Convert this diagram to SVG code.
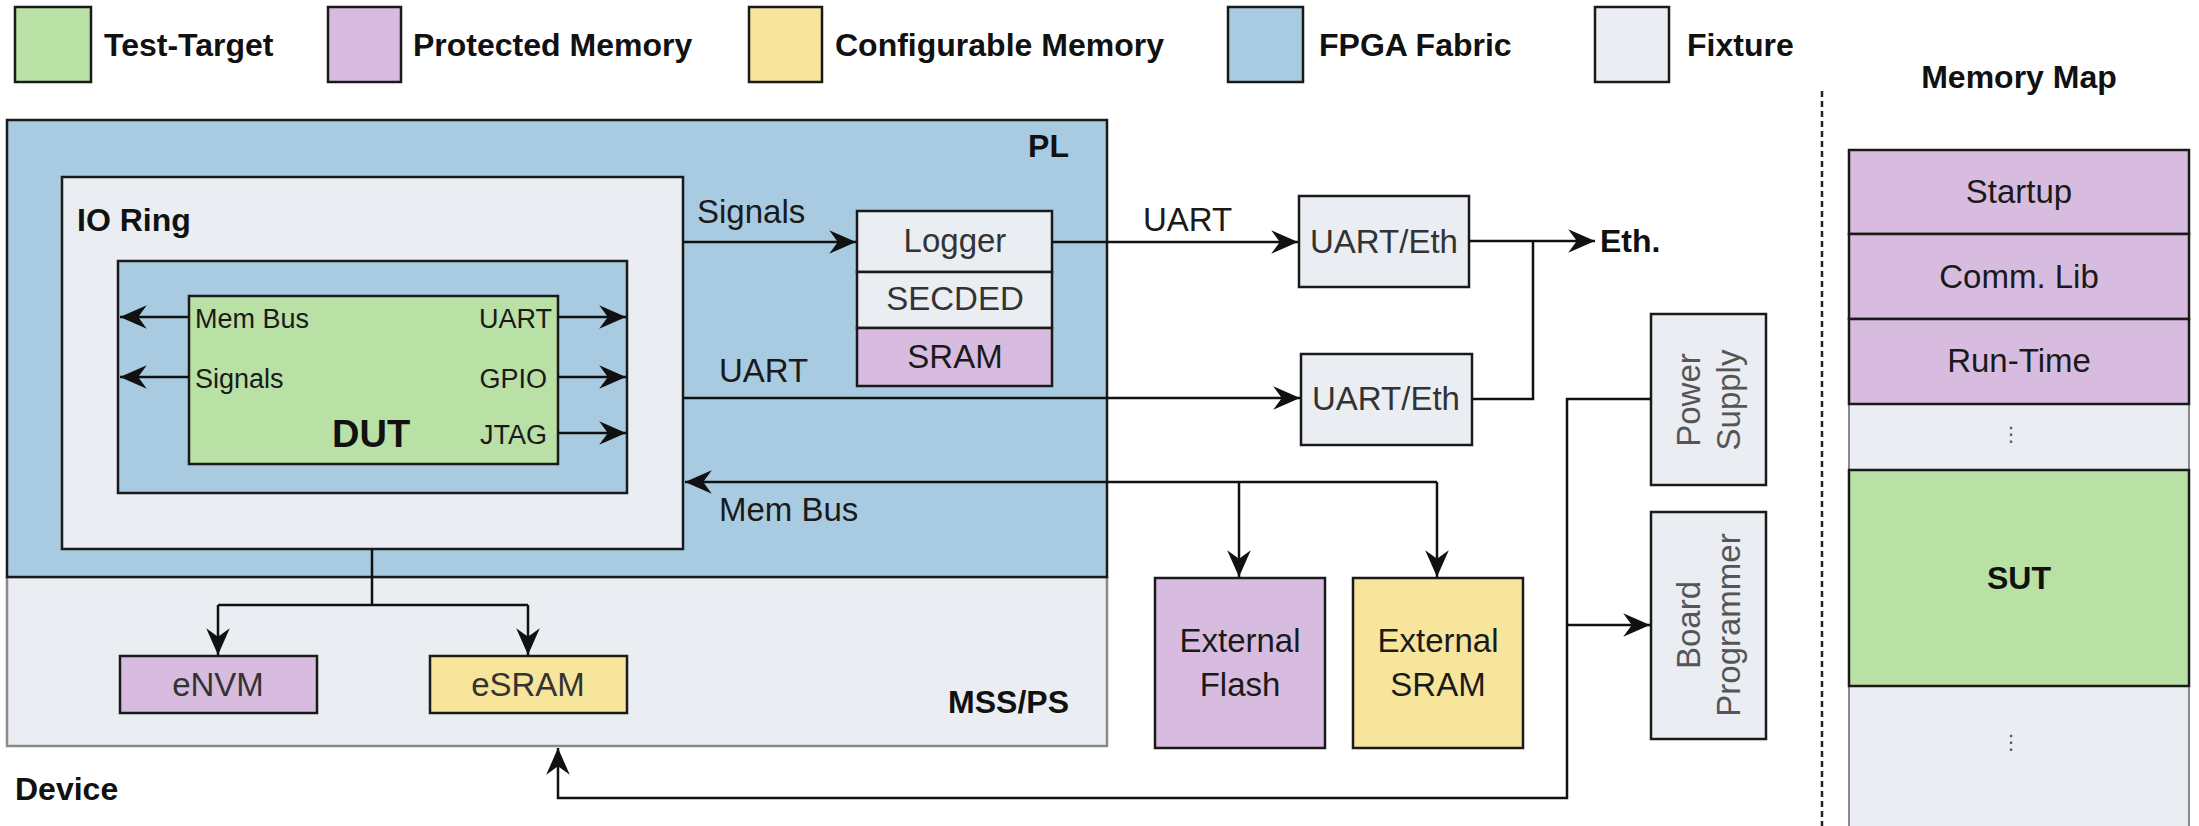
<svg xmlns="http://www.w3.org/2000/svg" width="2199" height="826" viewBox="0 0 2199 826">
<style>
text{font-family:"Liberation Sans",Arial,sans-serif}
.b{font-weight:bold;font-size:32px;fill:#111}
.t33{font-size:33px;fill:#1a1a1a}
.g33{font-size:33px;fill:#333}
.r27{font-size:27px;fill:#1a1a1a}
.c{text-anchor:middle}
.e{text-anchor:end}
.box{stroke:#1a1a1a;stroke-width:2.5}
.green{fill:#B9E0A5}
.purple{fill:#D8BCE0}
.yellow{fill:#F8E59C}
.blue{fill:#A9CBE1}
.fix{fill:#EAEDF2}
.ln{fill:none;stroke:#111;stroke-width:2.5}
.arr{marker-end:url(#ah)}
</style>
<defs>
<marker id="ah" markerUnits="userSpaceOnUse" markerWidth="30" markerHeight="30" viewBox="-27 -13 28 26" refX="0" refY="0" orient="auto">
<path d="M0,0 L-25,-11 L-17,0 L-25,11 Z" fill="#111"/>
</marker>
</defs>

<g id="legend">
<rect class="box green" x="15" y="7" width="76" height="75"/>
<text class="b" x="104" y="56">Test-Target</text>
<rect class="box purple" x="328" y="7" width="73" height="75"/>
<text class="b" x="413" y="56">Protected Memory</text>
<rect class="box yellow" x="749" y="7" width="73" height="75"/>
<text class="b" x="835" y="56">Configurable Memory</text>
<rect class="box blue" x="1228" y="7" width="75" height="75"/>
<text class="b" x="1319" y="56">FPGA Fabric</text>
<rect class="box fix" x="1595" y="7" width="74" height="75"/>
<text class="b" x="1687" y="56">Fixture</text>
</g>

<g id="device">
<rect x="7" y="577" width="1100" height="169" fill="#EAEDF2" stroke="#8a8a8a" stroke-width="2.5"/>
<text class="b e" x="1069" y="713">MSS/PS</text>
<text class="b" x="15" y="800">Device</text>
</g>
<g id="pl">
<rect class="box blue" x="7" y="120" width="1100" height="457"/>
<text class="b e" x="1069" y="157">PL</text>
</g>
<g id="io-ring">
<rect class="box fix" x="62" y="177" width="621" height="372"/>
<text class="b" x="77" y="231">IO Ring</text>
</g>
<g id="fabric-inner">
<rect class="box blue" x="118" y="261" width="509" height="232"/>
</g>
<g id="dut">
<rect class="box green" x="189" y="296" width="369" height="168"/>
<text class="r27" x="195" y="328">Mem Bus</text>
<text class="r27" x="195" y="388">Signals</text>
<text class="r27 e" x="552" y="328">UART</text>
<text class="r27 e" x="547" y="388">GPIO</text>
<text class="r27 e" x="547" y="444">JTAG</text>
<text x="332" y="447" style="font-weight:bold;font-size:38px;fill:#111">DUT</text>
</g>
<g id="logger">
<rect class="box fix" x="857" y="211" width="195" height="61"/>
<text class="g33 c" x="955" y="252">Logger</text>
</g>
<g id="secded">
<rect class="box fix" x="857" y="272" width="195" height="56"/>
<text class="g33 c" x="955" y="310">SECDED</text>
</g>
<g id="sram">
<rect class="box purple" x="857" y="328" width="195" height="58"/>
<text class="t33 c" x="955" y="368">SRAM</text>
</g>
<g id="envm">
<rect class="box purple" x="120" y="656" width="197" height="57"/>
<text class="g33 c" x="218" y="696">eNVM</text>
</g>
<g id="esram">
<rect class="box yellow" x="430" y="656" width="197" height="57"/>
<text class="g33 c" x="528" y="696">eSRAM</text>
</g>
<g id="uart-eth-1">
<rect class="box fix" x="1299" y="196" width="170" height="91"/>
<text class="g33 c" x="1384" y="253">UART/Eth</text>
</g>
<g id="uart-eth-2">
<rect class="box fix" x="1301" y="354" width="171" height="91"/>
<text class="g33 c" x="1386" y="410">UART/Eth</text>
</g>
<g id="ext-flash">
<rect class="box purple" x="1155" y="578" width="170" height="170"/>
<text class="t33 c" x="1240" y="652">External</text>
<text class="t33 c" x="1240" y="696">Flash</text>
</g>
<g id="ext-sram">
<rect class="box yellow" x="1353" y="578" width="170" height="170"/>
<text class="t33 c" x="1438" y="652">External</text>
<text class="t33 c" x="1438" y="696">SRAM</text>
</g>
<g id="power-supply">
<rect class="box fix" x="1651" y="314" width="115" height="171"/>
<text class="c" transform="translate(1700,400) rotate(-90)" style="font-size:33px;fill:#555">Power</text>
<text class="c" transform="translate(1740,400) rotate(-90)" style="font-size:33px;fill:#555">Supply</text>
</g>
<g id="board-programmer">
<rect class="box fix" x="1651" y="512" width="115" height="227"/>
<text class="c" transform="translate(1700,625) rotate(-90)" style="font-size:33px;fill:#555">Board</text>
<text class="c" transform="translate(1740,625) rotate(-90)" style="font-size:33px;fill:#555">Programmer</text>
</g>
<g id="eth">
<text class="b" x="1600" y="252">Eth.</text>
</g>

<g id="memory-map">
<line x1="1822" y1="91" x2="1822" y2="826" stroke="#222" stroke-width="2.5" stroke-dasharray="6 4"/>
<text class="b c" x="2019" y="88">Memory Map</text>
<rect x="1849" y="404" width="340" height="440" fill="#EAEDF2" stroke="#8a8a8a" stroke-width="2"/>
<rect class="box purple" x="1849" y="150" width="340" height="84"/>
<text class="t33 c" x="2019" y="203">Startup</text>
<rect class="box purple" x="1849" y="234" width="340" height="85"/>
<text class="t33 c" x="2019" y="288">Comm. Lib</text>
<rect class="box purple" x="1849" y="319" width="340" height="85"/>
<text class="t33 c" x="2019" y="372">Run-Time</text>
<text x="2011" y="441" style="font-family:'DejaVu Sans',sans-serif;font-size:20px;fill:#555" text-anchor="middle">⋮</text>
<rect class="box green" x="1849" y="470" width="340" height="216"/>
<text class="b c" x="2019" y="589">SUT</text>
<text x="2011" y="749" style="font-family:'DejaVu Sans',sans-serif;font-size:20px;fill:#555" text-anchor="middle">⋮</text>
</g>

<g id="connectors">
<path class="ln arr" d="M189,317 H120"/>
<path class="ln arr" d="M189,377 H120"/>
<path class="ln arr" d="M558,317 H626"/>
<path class="ln arr" d="M558,377 H626"/>
<path class="ln arr" d="M558,433 H626"/>
<path class="ln arr" d="M683,242 H856"/>
<text class="t33" x="697" y="223">Signals</text>
<path class="ln arr" d="M1052,242 H1298"/>
<text class="t33" x="1143" y="231">UART</text>
<path class="ln arr" d="M683,398 H1300"/>
<text class="t33" x="719" y="382">UART</text>
<path class="ln arr" d="M1469,241 H1595"/>
<path class="ln" d="M1472,399 H1533 V241"/>
<path class="ln arr" d="M1437,482 H685"/>
<path class="ln arr" d="M1239,482 V577"/>
<path class="ln arr" d="M1437,482 V577"/>
<text class="t33" x="719" y="521">Mem Bus</text>
<path class="ln" d="M372,549 V605 M218,605 H528"/>
<path class="ln arr" d="M218,605 V655"/>
<path class="ln arr" d="M528,605 V655"/>
<path class="ln arr" d="M1651,399 H1567 V798 H558 V748"/>
<path class="ln arr" d="M1567,625 H1650"/>
</g>
</svg>
